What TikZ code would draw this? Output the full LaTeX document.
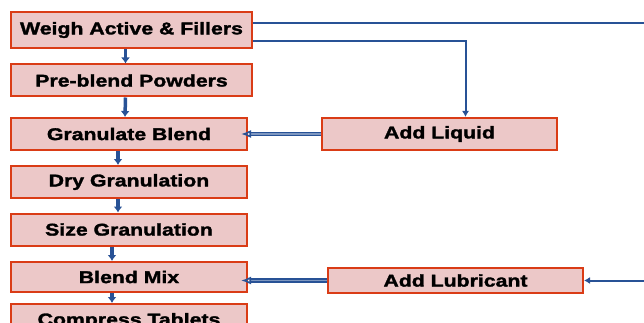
\documentclass[tikz,border=0pt]{standalone}
\usepackage{fontspec}
\setmainfont{Liberation Sans}[FakeStretch=1.25,FakeBold=1.8]
\usetikzlibrary{arrows.meta}
\begin{document}
\begin{tikzpicture}[x=1pt,y=-1pt]
  % Colors
  \definecolor{boxfill}{RGB}{236,200,200}
  \definecolor{boxline}{RGB}{218,60,22}
  \definecolor{flowcolor}{RGB}{40,82,150}

  % Styles
  \tikzstyle{step box}=[draw=boxline,line width=2pt,fill=boxfill,
    inner sep=0pt,minimum height=32pt,font=\fontsize{17}{19}\selectfont\bfseries]
  \tikzstyle{flow}=[flowcolor,line width=3.5pt,-{Latex[length=6pt,width=9pt]}]
  \tikzstyle{feed}=[flowcolor,line width=1.6pt,double=flowcolor!60!white,
    double distance=1.4pt,-{Latex[open,length=10pt,width=8pt]}]
  \tikzstyle{line}=[flowcolor,line width=2pt]

  \clip (0,0) rectangle (644,323);
  \useasboundingbox (0,0) rectangle (644,323);

  % The graphic
  \node[step box,minimum width=241pt,minimum height=36pt] (weigh) at (131.5,30) {Weigh Active \& Fillers};
  \node[step box,minimum width=241pt] (pre) at (131.5,80.5) {Pre-blend Powders};
  \node[step box,minimum width=236pt] (gran) at (129,134) {Granulate Blend};
  \node[step box,minimum width=236pt] (dry) at (129,182) {Dry Granulation};
  \node[step box,minimum width=236pt] (size) at (129,229.5) {Size Granulation};
  \node[step box,minimum width=236pt,minimum height=30pt] (mix) at (129,277) {Blend Mix};
  \node[step box,minimum width=236pt,minimum height=34pt] (comp) at (129,321) {\raisebox{3pt}{Compress Tablets}};

  \node[step box,minimum width=235pt] (liquid) at (439.5,134) {Add Liquid};
  \node[step box,minimum width=255pt,minimum height=25pt] (lub) at (455.5,280.5) {Add Lubricant};

  \coordinate (edge top) at (644,23);
  \coordinate (edge low) at (644,280.5);

  % main line
  \draw[flow] ([xshift=-6pt]weigh.south) -- ([xshift=-6pt]pre.north);
  \draw[flow] ([xshift=-6pt]pre.south) -- ([xshift=-4pt]gran.north);
  \draw[flow] ([xshift=-11pt]gran.south) -- ([xshift=-11pt]dry.north);
  \draw[flow] ([xshift=-11pt]dry.south) -- ([xshift=-11pt]size.north);
  \draw[flow] ([xshift=-17pt]size.south) -- ([xshift=-17pt]mix.north);
  \draw[flow] ([xshift=-17pt]mix.south) -- ([xshift=-17pt]comp.north);

  % side feeds
  \draw[line] ([yshift=7pt]weigh.east) -- (edge top);
  \draw[line,-{Latex[length=6pt,width=7pt]}] ([yshift=-11pt]weigh.east) -| ([xshift=26pt]liquid.north);
  \draw[feed,shorten >=-7pt] (liquid.west) -- (gran.east);
  \draw[feed,shorten >=-7pt] (lub.west) -- (mix.east |- lub.west);
  \draw[line,-{Latex[length=6pt,width=7pt]}] (edge low) -- (lub.east);
\end{tikzpicture}
\end{document}
